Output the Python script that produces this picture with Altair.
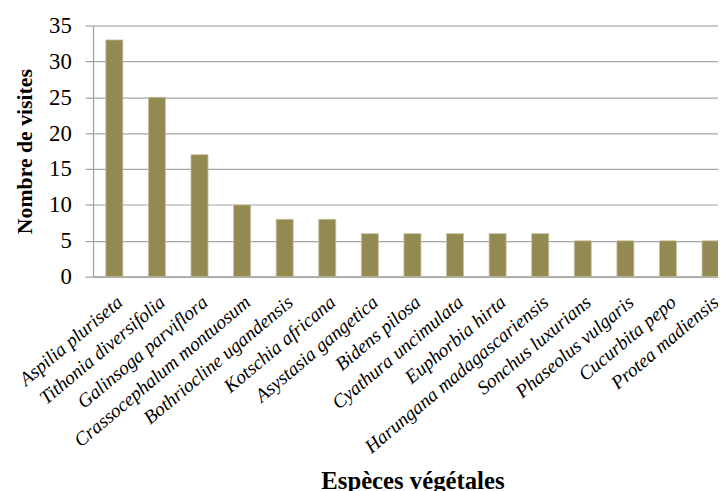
import altair as alt
import pandas as pd

especes = [
    "Aspilia pluriseta", "Tithonia diversifolia", "Galinsoga parviflora",
    "Crassocephalum montuosum", "Bothriocline ugandensis", "Kotschia africana",
    "Asystasia gangetica", "Bidens pilosa", "Cyathura uncimulata",
    "Euphorbia hirta", "Harungana madagascariensis", "Sonchus luxurians",
    "Phaseolus vulgaris", "Cucurbita pepo", "Protea madiensis",
]
visites = [33, 25, 17, 10, 8, 8, 6, 6, 6, 6, 6, 5, 5, 5, 5]
y_ticks = [0, 5, 10, 15, 20, 25, 30, 35]

df = pd.DataFrame({"espece": especes, "visites": visites})

serif = "Liberation Serif"

chart = (
    alt.Chart(df)
    .mark_bar(color="#938953", stroke="#c9c29e", strokeWidth=0.8)
    .encode(
        x=alt.X(
            "espece:N",
            sort=None,
            title="Espèces végétales",
            scale=alt.Scale(range=[0, 646], paddingInner=0.6, paddingOuter=0.3),
            axis=alt.Axis(
                labelAngle=-40,
                labelAlign="right",
                labelBaseline="top",
                labelFont=serif,
                labelFontStyle="italic",
                labelFontSize=19.5,
                labelColor="#000000",
                labelPadding=16,
                labelOverlap=False,
                labelLimit=400,
                ticks=False,
                domainColor="#a0a0a0",
                domainWidth=1.2,
                titleFont=serif,
                titleFontWeight="bold",
                titleFontSize=25,
                titleColor="#000000",
                titlePadding=13,
            ),
        ),
        y=alt.Y(
            "visites:Q",
            title="Nombre de visites",
            scale=alt.Scale(domain=[0, 35], nice=False),
            axis=alt.Axis(
                values=y_ticks,
                labelFont=serif,
                labelFontSize=23,
                labelColor="#000000",
                labelPadding=14,
                tickSize=8,
                tickColor="#a0a0a0",
                tickWidth=1.2,
                domainColor="#a0a0a0",
                domainWidth=1.2,
                gridColor="#a6a6a6",
                gridWidth=1.2,
                titleFont=serif,
                titleFontWeight="bold",
                titleFontSize=22,
                titleColor="#000000",
                titlePadding=12,
            ),
        ),
    )
    .properties(
        width=632,
        height=254,
        autosize=alt.AutoSizeParams(type="none"),
        padding={"left": 86, "top": 15, "right": 0, "bottom": 214},
    )
    .configure_view(stroke=None)
    .configure(background="#ffffff")
)

chart.save("out.html", embed_options={"renderer": "svg", "actions": False})
